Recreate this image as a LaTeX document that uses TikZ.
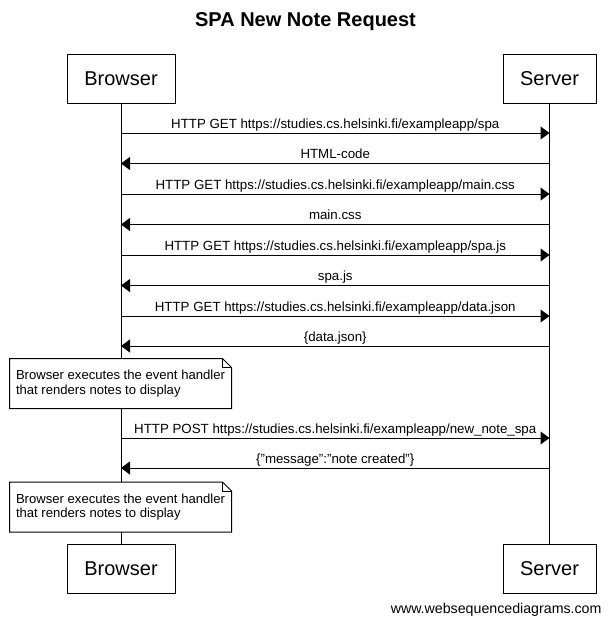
\documentclass[tikz,border=0pt]{standalone}
\usepackage{fontspec}
\setmainfont{Liberation Sans}
\usetikzlibrary{arrows.meta}
\begin{document}
\begin{tikzpicture}[x=1pt,y=-1pt,line width=1pt,
  actor/.style={draw,fill=white,inner sep=0pt,minimum height=49pt,font=\fontsize{20}{24}\selectfont},
  msg/.style={draw,-{Triangle[length=9pt,width=13pt]}},
  lbl/.style={midway,anchor=base,yshift=5pt,inner sep=0pt,font=\fontsize{13.3}{15}\selectfont},
  notebox/.style={inner sep=0pt,minimum width=221pt,minimum height=49pt,align=left,font=\fontsize{13.1}{14.5}\selectfont},
  noteline/.style={draw,fill=white}]
\useasboundingbox (0,0) rectangle (611,627);
\node[font=\bfseries\fontsize{20}{24}\selectfont] (title) at (305.5,22) {SPA New Note Request};
\node[actor,minimum width=108pt] (bt) at (121,78.5) {Browser};
\node[actor,minimum width=93pt] (st) at (549.5,78.5) {Server};
\node[actor,minimum width=108pt] (bb) at (121,568.5) {Browser};
\node[actor,minimum width=93pt] (sb) at (549.5,568.5) {Server};
\draw (bt.south) -- (bb.north);
\draw (st.south) -- (sb.north);
% message endpoints
\foreach \n/\y in {1/133,2/163.5,3/194,4/224.5,5/255,6/285.5,7/316,8/346,9/438,10/468}{
  \coordinate (b\n) at (121,\y);
  \coordinate (s\n) at (549.5,\y);
}
\draw[msg] (b1) -- node[lbl]{HTTP GET https://studies.cs.helsinki.fi/exampleapp/spa} (s1);
\draw[msg] (s2) -- node[lbl]{HTML-code} (b2);
\draw[msg] (b3) -- node[lbl]{HTTP GET https://studies.cs.helsinki.fi/exampleapp/main.css} (s3);
\draw[msg] (s4) -- node[lbl]{main.css} (b4);
\draw[msg] (b5) -- node[lbl]{HTTP GET https://studies.cs.helsinki.fi/exampleapp/spa.js} (s5);
\draw[msg] (s6) -- node[lbl]{spa.js} (b6);
\draw[msg] (b7) -- node[lbl]{HTTP GET https://studies.cs.helsinki.fi/exampleapp/data.json} (s7);
\draw[msg] (s8) -- node[lbl]{\{data.json\}} (b8);
\draw[msg] (b9) -- node[lbl]{HTTP POST https://studies.cs.helsinki.fi/exampleapp/new\_note\_spa} (s9);
\draw[msg] (s10) -- node[lbl]{\{"message":"note created"\}} (b10);
% notes
\foreach \nm/\cy in {n1/383.5,n2/507}{
  \path (120.5,\cy) node[notebox] (\nm) {\phantom{x}};
  \draw[noteline] (\nm.north west) -- ([xshift=-9pt]\nm.north east) -- ([yshift=-9pt]\nm.north east) -- (\nm.south east) -- (\nm.south west) -- cycle;
  \draw[line width=0.6pt] ([xshift=-9pt]\nm.north east) -- ([xshift=-9pt,yshift=-9pt]\nm.north east) -- ([yshift=-9pt]\nm.north east);
  \node[notebox] at (\nm) {Browser executes the event handler\\that renders notes to display};
}
\node[anchor=base east,inner sep=0pt,font=\fontsize{14.2}{16}\selectfont] (footer) at (602,613) {www.websequencediagrams.com};
\end{tikzpicture}
\end{document}
